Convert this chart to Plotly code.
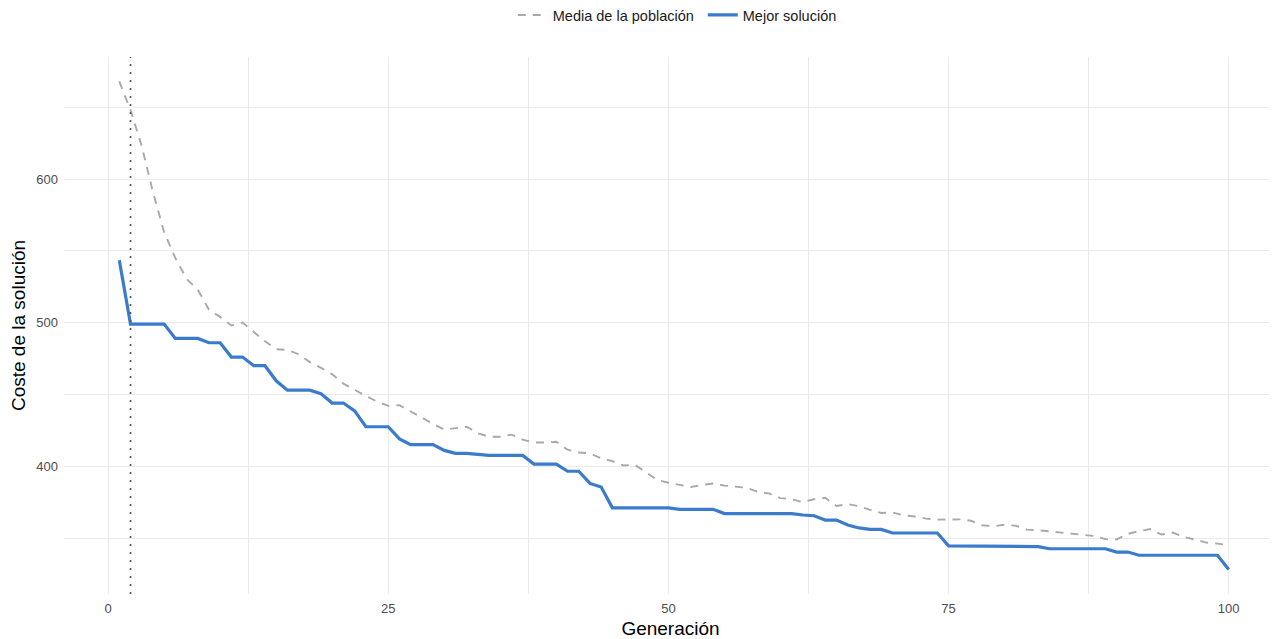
import plotly.graph_objects as go

generacion = list(range(1, 101))

media_poblacion = [
    668, 648, 623, 591, 563, 545, 530.5, 523, 509, 504,
    498, 500, 493.5, 487, 481.5, 481, 478, 472.5, 468.5, 464,
    457.5, 453, 449, 445, 442, 442.5, 438, 434, 429.5, 425.5,
    426.5, 427.5, 423, 420.5, 420.5, 422, 418.5, 416.5, 416.5, 417,
    411.5, 409.5, 409, 405.5, 403.5, 400.5, 401, 396, 390.5, 388.5,
    387, 385.5, 387, 388, 386.5, 385.5, 385, 382, 381, 377.8,
    377, 375, 377, 378, 372.3, 373.6, 372.1, 369.6, 367.4, 367.8,
    365.7, 365, 363.5, 362.8, 363, 363, 362, 358.9, 358.2, 359.2,
    358.5, 355.8, 355.4, 354.7, 353.5, 353, 352.4, 351.4, 349.2, 349,
    352.8, 354.8, 356.2, 352.4, 353.8, 350.7, 348.9, 346.8, 346.1, 345,
]

mejor_solucion = [
    543.5, 499, 499, 499, 499, 489, 489, 489, 486, 486,
    476, 476, 470, 470, 459.5, 453, 453, 453, 450.5, 444,
    444, 438.5, 427.5, 427.5, 427.5, 419, 415, 415, 415, 411,
    409, 409, 408, 407.5, 407.5, 407.5, 407.5, 401.5, 401.5, 401.5,
    396.5, 396.5, 388, 385.5, 371, 371, 371, 371, 371, 371,
    370, 370, 370, 370, 367, 367, 367, 367, 367, 367,
    367, 366, 365.5, 362.5, 362.5, 359, 357, 356, 356, 353.5,
    353.5, 353.5, 353.5, 353.5, 344.5, 344.5, 344, 344, 344, 344,
    344, 344, 344, 342.5, 342.5, 342.5, 342.5, 342.5, 342.5, 340.2,
    340.2, 338, 338, 338, 338, 338, 338, 338, 338, 328,
]

generacion_marcada = 2

x_ticks = [0, 25, 50, 75, 100]
y_ticks = [400, 500, 600]

FONT = "Liberation Sans, Arial, sans-serif"
GRID = "#EBEBEB"

fig = go.Figure()
fig.add_trace(go.Scatter(
    x=generacion, y=media_poblacion, mode="lines",
    name="Media de la población",
    line=dict(color="#A9A9A9", width=1.9, dash="8px,7px"),
))
fig.add_trace(go.Scatter(
    x=generacion, y=mejor_solucion, mode="lines",
    name="Mejor solución",
    line=dict(color="#3A7CCB", width=3.2),
))

fig.add_shape(type="line", xref="x", yref="paper",
              x0=generacion_marcada, x1=generacion_marcada, y0=0, y1=1,
              line=dict(color="#555555", width=1.6, dash="2px,6px"),
              layer="above")

fig.update_layout(
    width=1269, height=631,
    margin=dict(l=56, r=0, t=49, b=45),
    plot_bgcolor="white", paper_bgcolor="white",
    font=dict(family=FONT, color="#1A1A1A"),
    showlegend=True,
    legend=dict(orientation="h", xref="container", yref="container",
                x=0.5475, xanchor="center", y=1 - 7 / 631, yanchor="middle",
                font=dict(size=14.5, color="#1A1A1A"), itemwidth=30,
                entrywidth=145, entrywidthmode="pixels",
                bgcolor="rgba(0,0,0,0)"),
    xaxis=dict(
        range=[-3.935, 104.31], tickvals=x_ticks, ticktext=[str(v) for v in x_ticks],
        showgrid=True, gridcolor=GRID, gridwidth=1.1, zeroline=False, showline=False,
        ticks="", tickfont=dict(size=13, color="#4D4D4D"), ticklabelstandoff=5,
        minor=dict(dtick=12.5, tick0=0, showgrid=True, gridcolor=GRID, gridwidth=0.6),
        title=dict(text="Generación", font=dict(size=19, color="#000000"), standoff=10),
        automargin=False,
    ),
    yaxis=dict(
        range=[311, 685], tickvals=y_ticks, ticktext=[str(v) for v in y_ticks],
        showgrid=True, gridcolor=GRID, gridwidth=1.1, zeroline=False, showline=False,
        ticks="", tickfont=dict(size=13, color="#4D4D4D"), ticklabelstandoff=5,
        minor=dict(dtick=50, tick0=0, showgrid=True, gridcolor=GRID, gridwidth=0.6),
        title=dict(text="Coste de la solución", font=dict(size=19, color="#000000"), standoff=12),
        automargin=False,
    ),
)

fig.write_html("out.html")
